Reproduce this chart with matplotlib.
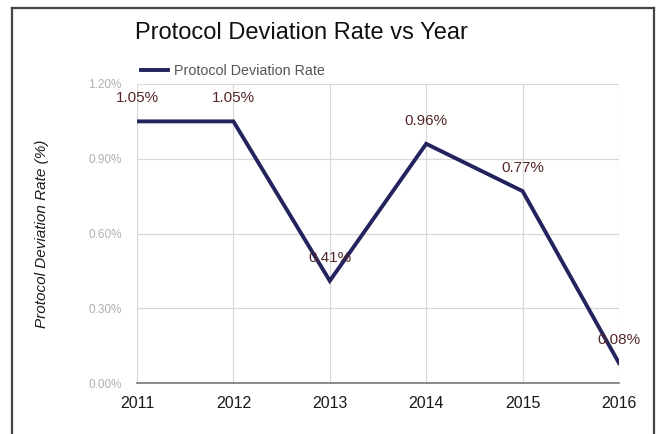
import matplotlib.pyplot as plt
from matplotlib.lines import Line2D
from matplotlib.ticker import FuncFormatter

# data
years = [2011, 2012, 2013, 2014, 2015, 2016]
rates = [1.05, 1.05, 0.41, 0.96, 0.77, 0.08]
rate_labels = ['1.05%', '1.05%', '0.41%', '0.96%', '0.77%', '0.08%']
y_ticks = [0.0, 0.3, 0.6, 0.9, 1.2]

plt.rcParams['font.family'] = ['Liberation Sans', 'DejaVu Sans']

fig = plt.figure(figsize=(6.6, 4.34), dpi=100)
ax = fig.add_axes([137 / 660, 1 - 383 / 434, 482 / 660, 299 / 434])

ax.plot(years, rates, color='#23235e', lw=2.8, solid_joinstyle='miter',
        label='Protocol Deviation Rate', zorder=3)

for x, y, s in zip(years, rates, rate_labels):
    ax.annotate(s, (x, y), xytext=(0, 16.5), textcoords='offset points',
                ha='center', va='center', fontsize=11, color='#552828', zorder=4)

ax.set_xlim(2011, 2016)
ax.set_ylim(0, 1.2)
ax.set_xticks(years)
ax.set_yticks(y_ticks)
ax.yaxis.set_major_formatter(FuncFormatter(lambda v, p: f'{v:.2f}%'))
ax.grid(True, color='#d8d8d8', lw=0.9)
ax.tick_params(length=0)
ax.tick_params(axis='y', labelsize=8.5, colors='#b0b0b0', pad=11)
ax.tick_params(axis='x', labelsize=11.5, labelcolor='#1a1a1a', pad=9)
for side in ['top', 'right', 'left']:
    ax.spines[side].set_visible(False)
ax.spines['bottom'].set_color('#777777')
ax.spines['bottom'].set_linewidth(1.2)
ax.set_axisbelow(True)

ax.set_ylabel('Protocol Deviation Rate (%)', style='italic', fontsize=11,
              color='#1a1a1a', labelpad=28)

fig.text(135 / 660, 1 - 33 / 434, 'Protocol Deviation Rate vs Year',
         fontsize=17, color='#111111', ha='left', va='center')

leg = fig.legend(handles=[Line2D([], [], color='#23235e', lw=2.8)],
                 labels=['Protocol Deviation Rate'], loc='center left',
                 bbox_to_anchor=(128 / 660, 1 - 71 / 434), frameon=False,
                 fontsize=10.3, handlelength=1.9, handletextpad=0.45)
for t in leg.get_texts():
    t.set_color('#555555')

# outer frame of the picture
frame_kw = dict(color='#444444', lw=1.6, transform=fig.transFigure)
fig.add_artist(Line2D([12 / 660, 12 / 660], [0, 1 - 8 / 434], **frame_kw))
fig.add_artist(Line2D([12 / 660, 654 / 660], [1 - 8 / 434, 1 - 8 / 434], **frame_kw))
fig.add_artist(Line2D([654 / 660, 654 / 660], [0, 1 - 8 / 434], **frame_kw))

fig.savefig('out.png', dpi=100)
